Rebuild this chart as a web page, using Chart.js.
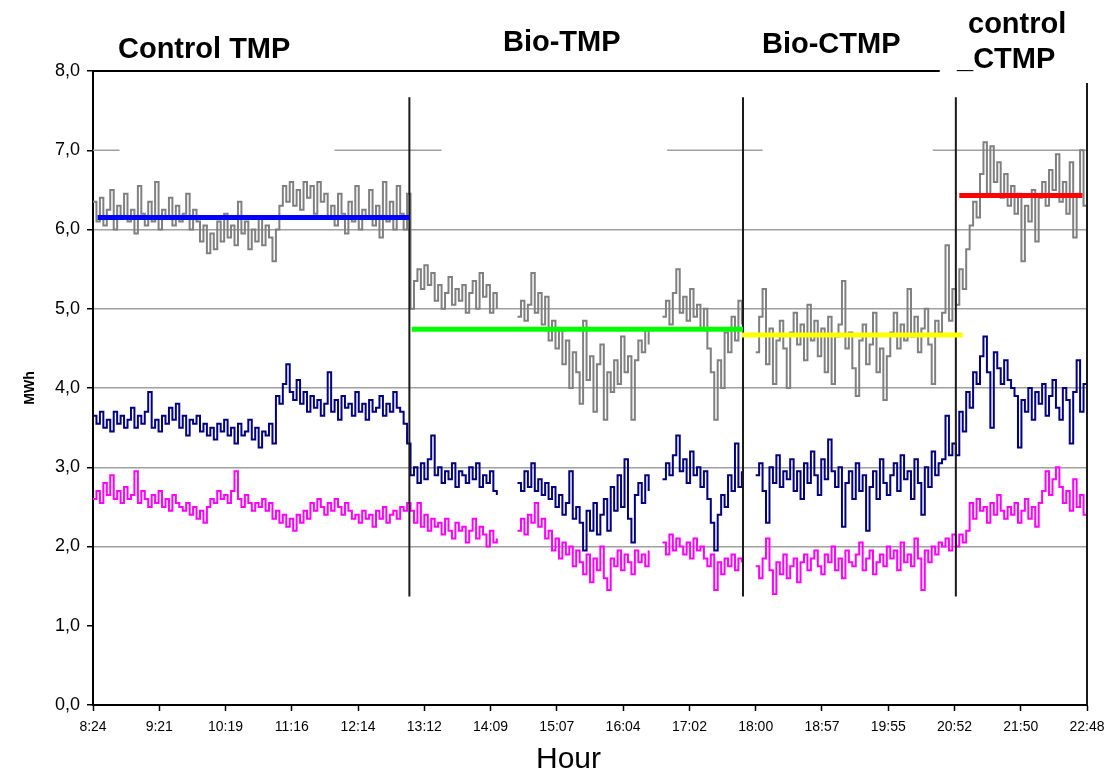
<!DOCTYPE html>
<html>
<head>
<meta charset="utf-8">
<title>MWh per hour - TMP / CTMP trials</title>
<script src="https://cdn.jsdelivr.net/npm/chart.js@4.4.0/dist/chart.umd.min.js"></script>
<style>
    body { margin: 0; background: #fff; }
    #wrap { position: relative; width: 1105px; height: 775px; }
    .sect {
        position: absolute;
        font: bold 29px "Liberation Sans", Arial, sans-serif;
        line-height: 29px;
        color: #000;
        white-space: nowrap;
    }
    #hourTitle {
        position: absolute;
        left: 536px;
        top: 740px;
        font: 30px "Liberation Sans", Arial, sans-serif;
        line-height: 36px;
        color: #000;
    }
</style>
</head>
<body>
<div id="wrap">
    <canvas id="energyChart" width="1105" height="775"></canvas>
    <div class="sect" style="left:118px; top:34px">Control TMP</div>
    <div class="sect" style="left:503px; top:27px">Bio-TMP</div>
    <div class="sect" style="left:762px; top:29px">Bio-CTMP</div>
    <div class="sect" style="left:968px; top:9px">control</div>
    <div class="sect" style="left:957px; top:44px">_CTMP</div>
    <div id="hourTitle">Hour</div>
</div>
<script>
// x axis tick labels (hour)
const tickLabels = ['8:24', '9:21', '10:19', '11:16', '12:14', '13:12', '14:09', '15:07',
    '16:04', '17:02', '18:00', '18:57', '19:55', '20:52', '21:50', '22:48'];

// samples every 3 minutes from 8:24, null = no data
const sampleStart = '8:24';
const sampleStepMin = 3;

// grey series (MWh)
const grayMWh = [
    // Control TMP 8:24 - 12:57
    6.35, 6.1, 6.4, 6.05, 6.25, 6.5, 6.0, 6.3, 6.15, 6.45,
    6.1, 6.25, 5.95, 6.55, 6.2, 6.05, 6.35, 6.1, 6.6, 6.0,
    6.25, 6.15, 6.4, 6.05, 6.3, 6.1, 6.2, 6.45, 6.0, 6.25,
    6.1, 5.85, 6.05, 5.7, 5.95, 5.75, 6.1, 5.85, 6.2, 5.9,
    6.05, 5.8, 6.35, 5.95, 6.1, 5.75, 6.0, 5.85, 6.15, 5.8,
    6.05, 5.9, 5.6, 6.0, 6.3, 6.55, 6.35, 6.6, 6.3, 6.5,
    6.25, 6.6, 6.4, 6.55, 6.2, 6.6, 6.35, 6.45, 6.15, 6.3,
    6.05, 6.45, 6.2, 5.95, 6.35, 6.1, 6.55, 6.0, 6.25, 6.15,
    6.5, 6.05, 6.3, 5.9, 6.6, 6.1, 6.35, 6.0, 6.55, 6.2,
    6.0, 6.45,
    // Bio-TMP 13:00 - 14:15
    5.0, 5.35, 5.5, 5.25, 5.55, 5.3, 5.45, 5.1, 5.3, 5.0,
    5.2, 5.4, 5.05, 5.25, 5.1, 5.3, 4.95, 5.2, 5.35, 5.0,
    5.45, 5.15, 5.3, 4.95, 5.2, 5.0,
    null, null, null, null, null,
    // 14:33 - 16:27
    4.9, 5.1, 4.85, 5.05, 5.45, 4.95, 5.2,
    4.8, 5.15, 4.6, 4.85, 4.5, 4.75, 4.3, 4.6, 4.0, 4.45, 4.2,
    3.8, 4.85, 4.1, 4.4, 3.7, 4.3, 4.55, 3.6, 4.2, 3.95, 4.35, 4.05, 4.65, 4.2, 4.4, 3.6,
    4.35, 4.6, 4.45, 4.75, 4.55,
    null, null, null,
    // 16:39 - 17:48
    4.9, 5.1, 4.8, 5.2, 5.5, 4.95, 5.15, 4.85, 5.25, 4.9, 5.05, 4.75,
    5.0, 4.5, 4.2, 3.6, 4.35, 4.0, 4.7, 4.45, 4.9, 4.6, 5.1, 4.8,
    null, null, null,
    // Bio-CTMP 18:00 - 20:51
    4.45, 4.9, 5.25, 4.3, 4.75, 4.05, 4.6, 4.85, 4.5,
    4.0, 4.7, 4.95, 4.55, 4.8, 4.35, 5.05, 4.6, 4.85, 4.4, 4.75, 4.2, 4.9, 4.05, 4.65,
    4.8, 5.35, 4.5, 4.7, 4.25, 3.9, 4.6, 4.8, 4.3, 4.55, 4.95, 4.2, 4.5, 3.85, 4.4,
    4.7, 4.95, 4.5, 4.8, 4.6, 5.25, 4.65, 4.9, 4.45, 4.75, 5.0, 4.55, 4.05, 4.85, 4.7,
    4.95, 5.8, 4.85, 5.25,
    // control CTMP 20:54 - 22:48
    5.05, 5.5, 5.25, 5.75,
    6.05, 6.35, 6.15,
    6.7, 7.1, 6.45, 7.05, 6.6, 6.85, 6.4, 6.7, 6.3, 6.55,
    6.2, 6.45, 5.6, 6.3, 6.1, 6.5, 5.85,
    6.4, 6.6, 6.3, 6.75, 6.5, 6.95, 6.35, 6.6, 6.2, 6.85, 5.9, 6.45, 7.0, 6.3, 6.6
];

// navy series (MWh)
const navyMWh = [
    // Control TMP
    3.65, 3.55, 3.7, 3.5, 3.6, 3.45, 3.7, 3.55, 3.65, 3.5,
    3.6, 3.75, 3.5, 3.65, 3.55, 3.7, 3.95, 3.5, 3.6, 3.45,
    3.65, 3.55, 3.75, 3.6, 3.8, 3.5, 3.65, 3.4, 3.6, 3.55,
    3.65, 3.45, 3.55, 3.4, 3.5, 3.35, 3.55, 3.45, 3.6, 3.4,
    3.5, 3.3, 3.55, 3.4, 3.45, 3.6, 3.35, 3.5, 3.25, 3.45,
    3.4, 3.55, 3.3, 3.9, 3.8, 4.05, 4.3, 3.95, 3.85, 4.1,
    3.8, 3.95, 3.7, 3.9, 3.75, 3.85, 3.65, 3.8, 4.2, 3.7,
    3.85, 3.6, 3.9, 3.75, 3.8, 3.65, 3.95, 3.7, 3.8, 3.6,
    3.85, 3.7, 3.75, 3.9, 3.65, 3.8, 3.7, 3.95, 3.75, 3.7,
    3.55, 3.3,
    // Bio-TMP
    2.9, 3.0, 2.8, 3.05, 2.85, 3.1, 3.4, 2.9, 3.0, 2.8,
    2.95, 2.85, 3.05, 2.75, 2.95, 2.9, 2.8, 3.0, 2.85, 3.05,
    2.75, 2.9, 2.8, 2.95, 2.7, 2.65,
    null, null, null, null, null,
    2.8, 2.7, 2.95, 2.75, 3.05, 2.7, 2.85, 2.65, 2.8,
    2.6, 2.75, 2.5, 2.65, 2.4, 2.55, 2.95, 2.35, 2.5,
    2.3, 1.95, 2.45, 2.2, 2.55, 2.15, 2.4,
    2.6, 2.2, 2.75, 2.45, 2.9, 2.5, 3.1, 2.35, 2.05,
    2.65, 2.8, 2.55, 2.9, 2.7,
    null, null, null,
    2.85, 3.05, 2.9, 3.15, 3.4, 2.95, 3.1, 2.8, 3.2, 2.9, 3.0, 2.75,
    2.95, 2.6, 2.3, 1.95, 2.4, 2.65, 2.5, 2.9, 2.7, 3.3, 2.75, 2.95,
    null, null, null,
    // Bio-CTMP
    2.9, 3.05, 2.7, 2.3, 3.0, 2.8, 3.15, 2.75, 2.95,
    2.85, 3.1, 2.7, 2.95, 2.6, 3.05, 2.8, 3.2, 2.9, 2.65, 3.1, 2.85, 3.35, 2.95, 2.75,
    3.0, 2.25, 2.8, 2.95, 2.6, 3.05, 2.7, 2.9, 2.2, 2.75, 2.95, 2.6, 3.1, 2.8, 2.65,
    2.9, 3.05, 2.7, 3.15, 2.85, 2.95, 2.6, 3.1, 2.8, 2.4, 3.0, 2.75, 3.2, 2.9, 3.05,
    3.1, 3.65, 3.15, 3.3,
    // control CTMP
    3.15, 3.7, 3.45, 3.95,
    3.75, 4.2, 4.05,
    4.4, 4.65, 4.2, 3.5, 4.45, 4.25, 4.05, 4.35, 4.1, 4.0,
    3.9, 3.25, 3.85, 3.7, 4.0, 3.6, 3.95,
    3.8, 4.05, 3.65, 3.9, 4.1, 3.75, 3.6, 4.0, 3.85, 3.3, 3.95, 4.35, 3.7, 4.05, 3.8
];

// magenta series (MWh)
const magentaMWh = [
    // Control TMP
    2.6, 2.7, 2.55, 2.8, 2.65, 2.9, 2.6, 2.7, 2.55, 2.75,
    2.6, 2.65, 2.95, 2.55, 2.7, 2.6, 2.5, 2.65, 2.55, 2.7,
    2.5, 2.6, 2.45, 2.65, 2.55, 2.5, 2.45, 2.55, 2.4, 2.5,
    2.35, 2.45, 2.3, 2.5, 2.6, 2.55, 2.7, 2.6, 2.65, 2.55,
    2.7, 2.95, 2.6, 2.5, 2.65, 2.55, 2.45, 2.55, 2.5, 2.6,
    2.45, 2.55, 2.35, 2.45, 2.3, 2.4, 2.25, 2.35, 2.2, 2.4,
    2.3, 2.45, 2.35, 2.55, 2.45, 2.6, 2.5, 2.4, 2.55, 2.45,
    2.6, 2.5, 2.4, 2.55, 2.45, 2.35, 2.4, 2.3, 2.45, 2.35,
    2.4, 2.25, 2.45, 2.35, 2.5, 2.3, 2.4, 2.45, 2.35, 2.5,
    2.45, 2.55,
    // Bio-TMP
    2.45, 2.3, 2.55, 2.25, 2.4, 2.2, 2.35, 2.25, 2.3, 2.15,
    2.35, 2.2, 2.1, 2.3, 2.2, 2.25, 2.05, 2.2, 2.35, 2.1,
    2.25, 2.15, 2.0, 2.2, 2.05, 2.1,
    null, null, null, null, null,
    2.2, 2.35, 2.15, 2.4, 2.3, 2.55, 2.25, 2.35, 2.1,
    2.2, 1.95, 2.1, 1.85, 2.05, 1.9, 2.0, 1.75, 1.95,
    1.8, 1.65, 1.9, 1.55, 1.85, 1.7, 2.0, 1.6, 1.45, 1.85, 1.75, 1.95, 1.7, 1.9, 1.8, 1.65,
    1.95, 1.8, 1.9, 1.75, 1.95,
    null, null, null,
    2.05, 1.9, 2.15, 1.95, 2.1, 2.0, 1.9, 2.05, 1.85, 2.1, 1.95, 2.0,
    1.85, 1.75, 1.9, 1.45, 1.8, 1.65, 1.85, 1.75, 1.9, 1.7, 1.85, 1.8,
    null, null, null,
    // Bio-CTMP
    1.75, 1.6, 1.85, 2.1, 1.7, 1.4, 1.8, 1.65, 1.9, 1.6, 1.75, 1.85, 1.55, 1.8,
    1.9, 1.7, 1.85, 1.95, 1.75, 1.65, 1.9, 1.8, 2.0, 1.7, 1.85, 1.6, 1.95,
    1.8, 1.75, 1.9, 2.05, 1.7, 1.85, 1.95, 1.65, 1.8, 1.9, 1.75, 2.0,
    1.85, 1.95, 1.7, 2.05, 1.8, 1.9, 1.75, 2.1, 1.85, 1.45, 1.95, 1.8, 2.0, 1.9, 2.05,
    2.0, 2.1, 1.95, 2.15,
    // control CTMP
    2.0, 2.15, 2.05, 2.2,
    2.55, 2.35, 2.6, 2.45, 2.5, 2.3, 2.55, 2.4, 2.65, 2.45, 2.35, 2.5, 2.4,
    2.55, 2.3, 2.45, 2.6, 2.35, 2.5, 2.25, 2.55,
    2.7, 2.95, 2.65, 2.85, 3.0, 2.75,
    2.55, 2.7, 2.45, 2.85, 2.5, 2.65, 2.4, 2.6
];

// average level of each trial
const meanValues = [6.15, 4.74, 4.67, 6.43];
const meanStarts = ['8:28', '13:01', '17:48', '20:57'];
const meanEnds = ['12:59', '17:49', '21:00', '22:44'];
const meanColors = ['#0000ff', '#00ff00', '#ffff00', '#ff0000'];

// trial changes
const boundaryTimes = ['12:59', '17:49', '20:54'];

// pieces of the 7,0 gridline that show in the original
const gridSevenPieces = [['8:24', '8:47'], ['11:54', '13:27'], ['16:43', '18:06'], ['20:34', '22:48']];

function toMin(hhmm) {
    const [h, m] = hhmm.split(':').map(Number);
    return h * 60 + m;
}

const FONT = '"Liberation Sans", Arial, Helvetica, sans-serif';
Chart.defaults.font.family = FONT;
Chart.defaults.color = '#000';

const startMin = toMin(sampleStart);
function seriesPoints(values) {
    return values.map((v, i) => ({ x: startMin + i * sampleStepMin, y: v }));
}

function segment(x1, y1, x2, y2, color, width, order) {
    return {
        data: [{ x: x1, y: y1 }, { x: x2, y: y2 }],
        borderColor: color,
        borderWidth: width,
        pointRadius: 0,
        fill: false,
        clip: false,
        order: order
    };
}

const datasets = [];

meanValues.forEach((v, i) => {
    datasets.push(segment(toMin(meanStarts[i]), v, toMin(meanEnds[i]), v, meanColors[i], 5, 0));
});

boundaryTimes.forEach(t => {
    datasets.push(segment(toMin(t), 1.37, toMin(t), 7.67, '#1a1a1a', 2, 1));
});
const lastTick = toMin(tickLabels[tickLabels.length - 1]);
datasets.push(segment(lastTick, 0, lastTick, 7.85, '#1a1a1a', 2, 1));

[['Gray', grayMWh, '#808080'], ['Navy', navyMWh, '#000080'], ['Magenta', magentaMWh, '#ff00ff']]
    .forEach(([label, values, color], i) => {
        datasets.push({
            label: label,
            data: seriesPoints(values),
            borderColor: color,
            borderWidth: 2,
            pointRadius: 0,
            stepped: true,
            spanGaps: false,
            fill: false,
            order: 2 + i
        });
    });

gridSevenPieces.forEach(([a, b]) => {
    datasets.push(segment(toMin(a), 7, toMin(b), 7, '#a0a0a0', 1.5, 6));
});
// black top line at 8,0
datasets.push(segment(toMin(tickLabels[0]), 8, toMin('20:40'), 8, '#000', 2, 6));

const ctx = document.getElementById('energyChart').getContext('2d');
new Chart(ctx, {
    type: 'line',
    data: { datasets: datasets },
    options: {
        responsive: false,
        animation: false,
        layout: { padding: { left: 0, right: 18, top: 71, bottom: 0 } },
        plugins: {
            legend: { display: false },
            tooltip: { enabled: false }
        },
        elements: { line: { tension: 0 } },
        scales: {
            x: {
                type: 'linear',
                min: toMin(tickLabels[0]),
                max: lastTick,
                afterBuildTicks: axis => {
                    const step = (axis.max - axis.min) / (tickLabels.length - 1);
                    axis.ticks = tickLabels.map((l, i) => ({ value: axis.min + i * step }));
                },
                afterFit: axis => {
                    axis.height = 70;
                    axis.paddingLeft = 0;
                    axis.paddingRight = 0;
                },
                grid: { drawOnChartArea: false, drawTicks: true, tickLength: 6, tickColor: '#000', tickWidth: 1.5 },
                border: { color: '#000', width: 2 },
                ticks: {
                    autoSkip: false,
                    maxRotation: 0,
                    padding: 8,
                    color: '#000',
                    font: { size: 14 },
                    callback: (value, index) => tickLabels[index]
                },
                title: { display: false }
            },
            y: {
                min: 0,
                max: 8,
                afterFit: axis => { axis.width = 93; },
                grid: {
                    color: c => (c.tick && c.tick.value >= 2 && c.tick.value <= 6) ? '#a0a0a0' : 'rgba(0,0,0,0)',
                    lineWidth: 1.5,
                    tickLength: 6,
                    tickColor: '#000',
                    tickWidth: 1.5
                },
                border: { color: '#000', width: 2 },
                ticks: {
                    stepSize: 1,
                    padding: 7,
                    color: '#000',
                    font: { size: 18 },
                    callback: v => v.toFixed(1).replace('.', ',')
                },
                title: {
                    display: true,
                    text: 'MWh',
                    color: '#000',
                    font: { size: 14, weight: 'bold' },
                    padding: { top: 22, bottom: 0 }
                }
            }
        }
    }
});
</script>
</body>
</html>
